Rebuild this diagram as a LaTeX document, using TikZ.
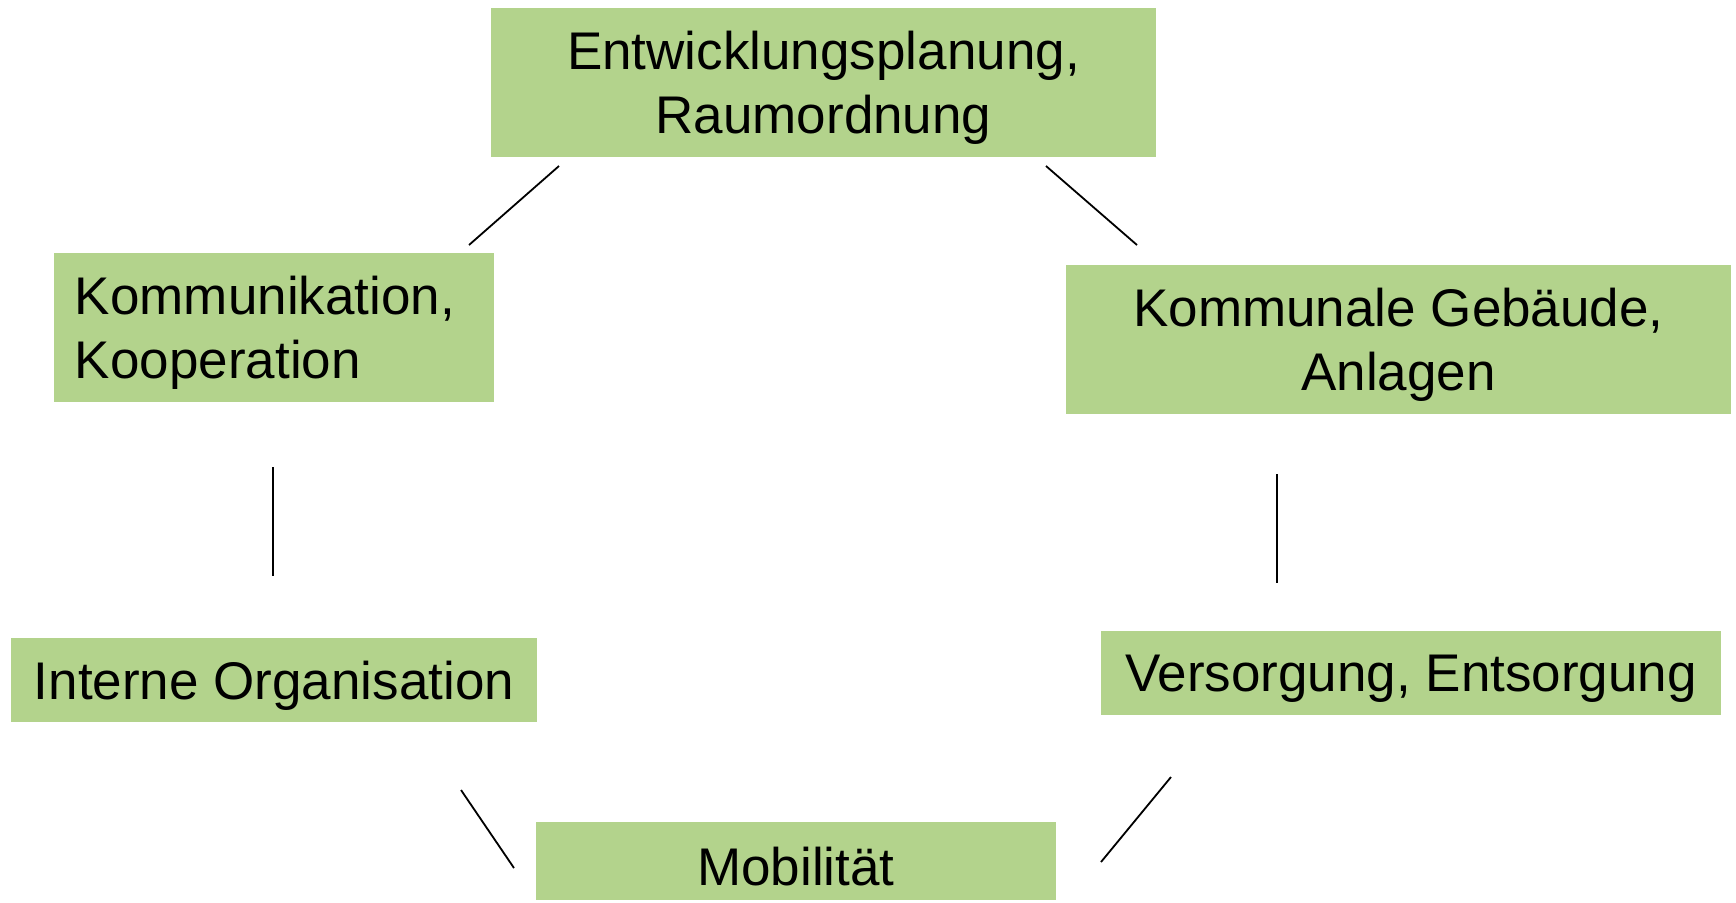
\documentclass[tikz,border=0pt]{standalone}
\usepackage{fontspec}
\setmainfont{Liberation Sans}
\usepackage{tikz}
\usepackage{xcolor}
\definecolor{boxgreen}{RGB}{179,211,140}

\begin{document}
\begin{tikzpicture}[x=0.5pt, y=-0.5pt,
  field/.style={rectangle, inner sep=0pt, align=center, yshift=-2.75pt,
    preaction={fill=boxgreen, transform canvas={yshift=2.75pt}},
    font=\fontsize{26.5}{32}\selectfont, minimum width=#1*0.5pt},
  tall/.style={minimum height=74.5pt},
  flat/.style={minimum height=42pt},
  link/.style={line width=0.9pt}]
  \useasboundingbox (0,0) rectangle (1736,902);
  \node[field=665, tall] (plan) at (823.5,82.5) {Entwicklungsplanung,\\Raumordnung};
  \node[field=440, tall, text width=199pt, inner xsep=10.5pt, align=left] (komm) at (274,327.5) {Kommunikation,\\Kooperation};
  \node[field=665, tall] (bau) at (1398.5,339.5) {Kommunale Gebäude,\\Anlagen};
  \node[field=526, flat] (intern) at (274,680) {Interne Organisation};
  \node[field=620, flat] (versorg) at (1411,673) {Versorgung, Entsorgung};
  \node[field=520, minimum height=39pt] (mobil) at (796,861) {Mobilität};

  \coordinate (pk1) at (559,166);  \coordinate (pk2) at (469,245);
  \coordinate (pb1) at (1046,166); \coordinate (pb2) at (1137,245);
  \coordinate (ki1) at (273,467);  \coordinate (ki2) at (273,576);
  \coordinate (bv1) at (1277,474); \coordinate (bv2) at (1277,583);
  \coordinate (im1) at (461,790);  \coordinate (im2) at (514,868);
  \coordinate (vm1) at (1171,777); \coordinate (vm2) at (1101,862);

  \draw[link] (pk1) -- (pk2);
  \draw[link] (pb1) -- (pb2);
  \draw[link] (ki1) -- (ki2);
  \draw[link] (bv1) -- (bv2);
  \draw[link] (im1) -- (im2);
  \draw[link] (vm1) -- (vm2);
\end{tikzpicture}
\end{document}
